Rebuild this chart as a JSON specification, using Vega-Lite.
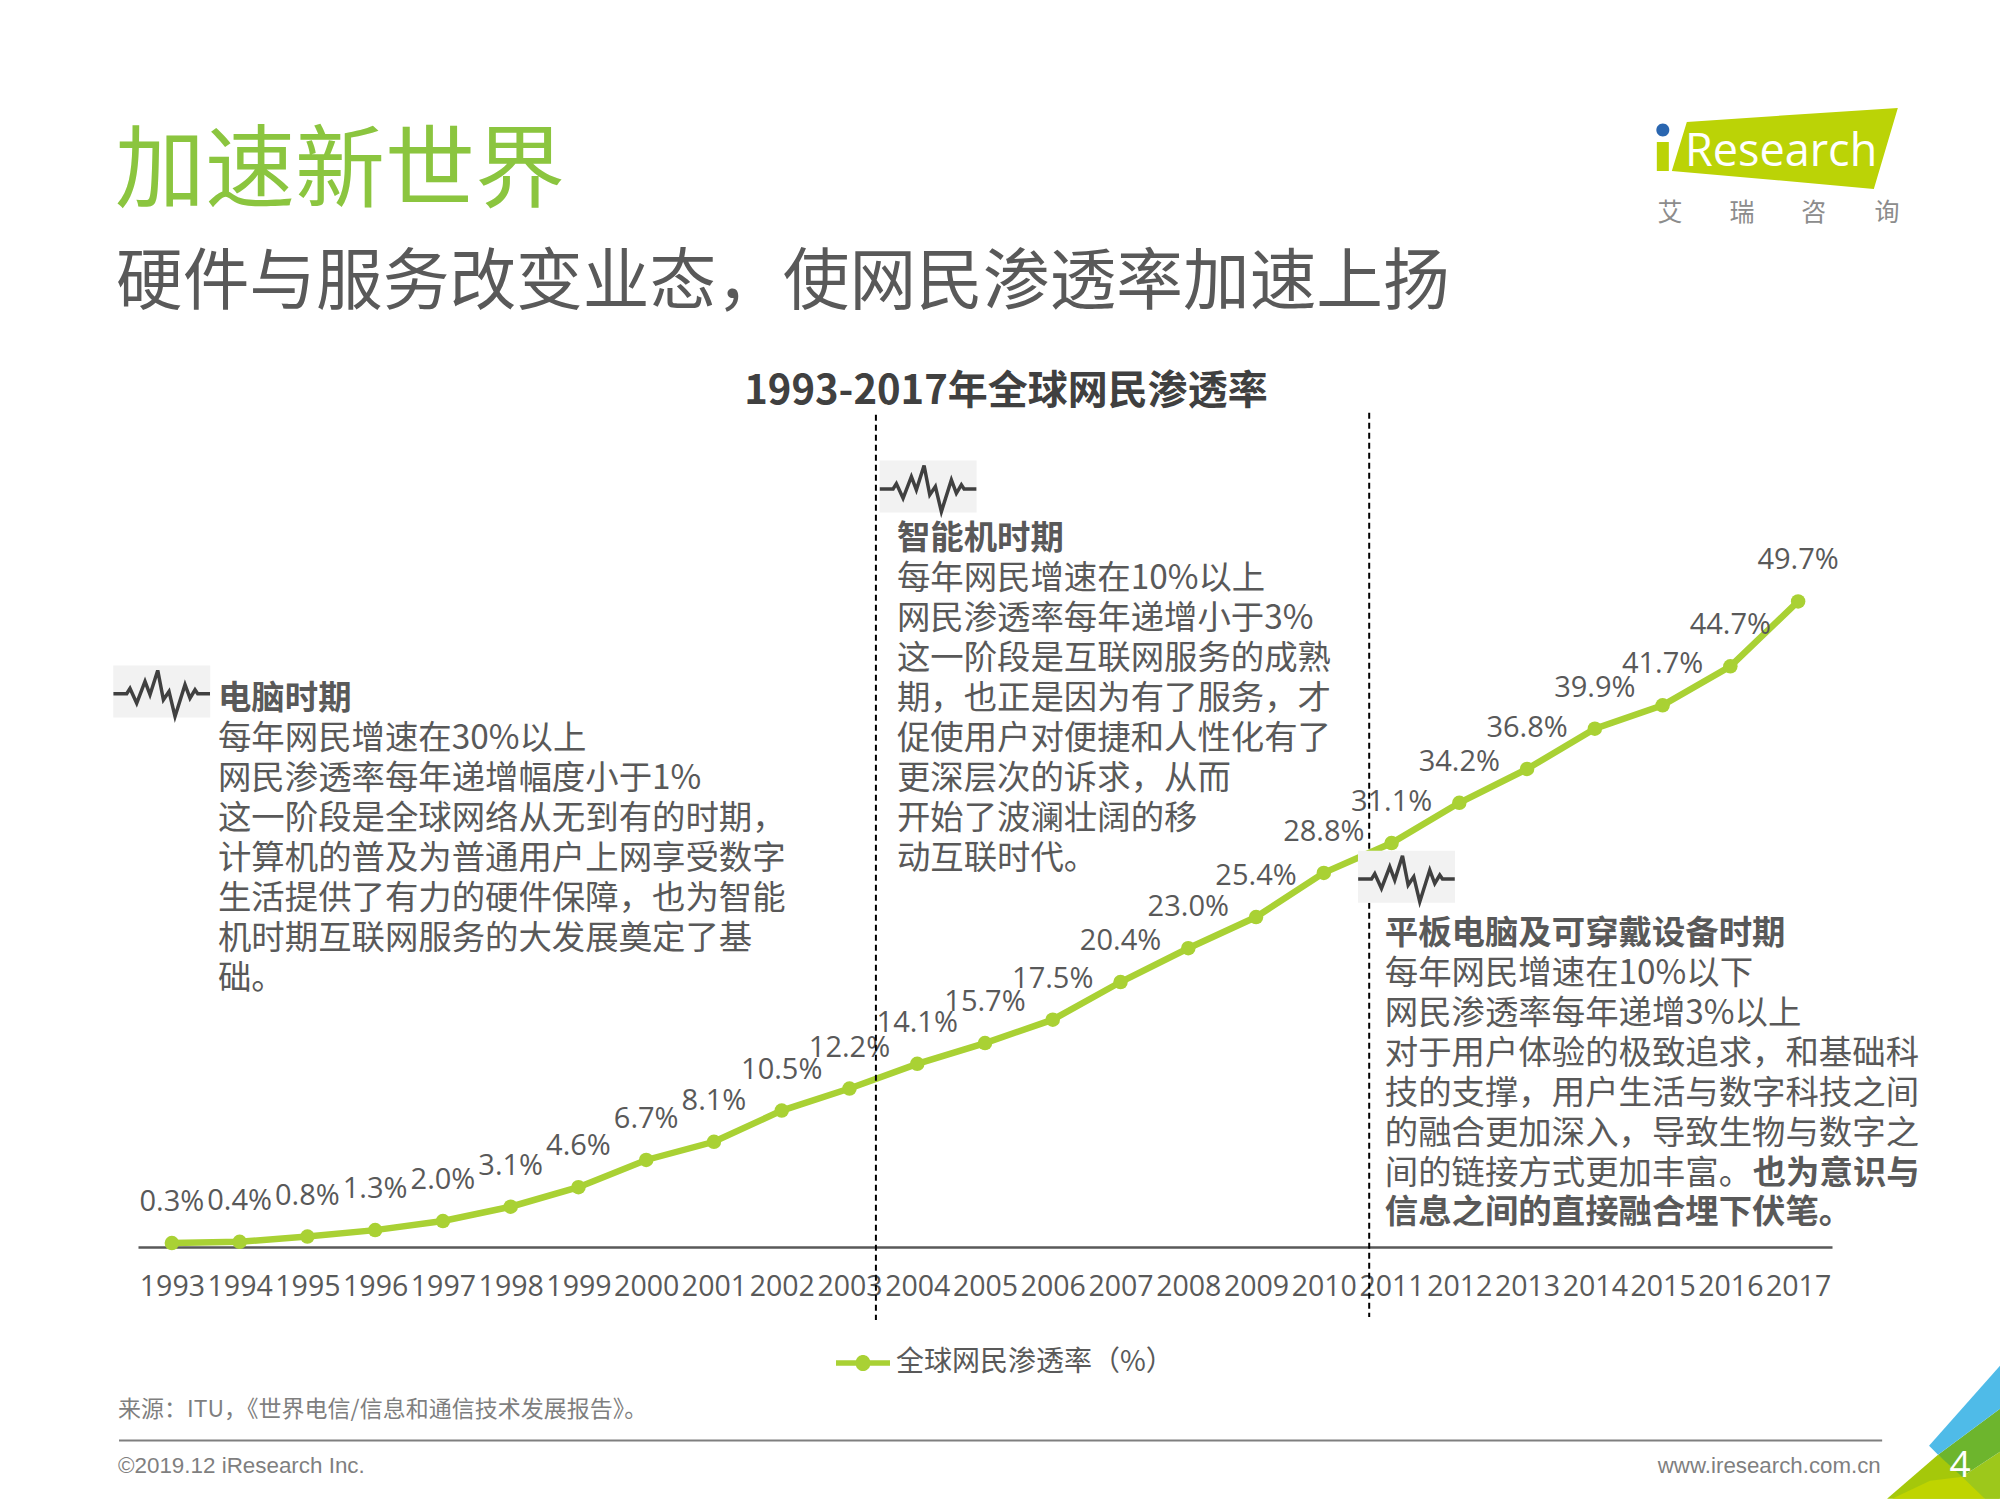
{
"$schema":"https://vega.github.io/schema/vega-lite/v6.json",
"width":1694,"height":1247,"autosize":{"type":"none"},
"padding":{"left":138,"top":0,"right":168,"bottom":253},
"background":"white",
"config":{"view":{"stroke":null},"font":"Noto Sans CJK SC"},
"datasets":{
"series":[
{"year":1993,"rate":0.3,"label":"0.3%","series":"全球网民渗透率（%）"},{"year":1994,"rate":0.4,"label":"0.4%","series":"全球网民渗透率（%）"},{"year":1995,"rate":0.8,"label":"0.8%","series":"全球网民渗透率（%）"},{"year":1996,"rate":1.3,"label":"1.3%","series":"全球网民渗透率（%）"},{"year":1997,"rate":2.0,"label":"2.0%","series":"全球网民渗透率（%）"},{"year":1998,"rate":3.1,"label":"3.1%","series":"全球网民渗透率（%）"},{"year":1999,"rate":4.6,"label":"4.6%","series":"全球网民渗透率（%）"},{"year":2000,"rate":6.7,"label":"6.7%","series":"全球网民渗透率（%）"},{"year":2001,"rate":8.1,"label":"8.1%","series":"全球网民渗透率（%）"},{"year":2002,"rate":10.5,"label":"10.5%","series":"全球网民渗透率（%）"},{"year":2003,"rate":12.2,"label":"12.2%","series":"全球网民渗透率（%）"},{"year":2004,"rate":14.1,"label":"14.1%","series":"全球网民渗透率（%）"},{"year":2005,"rate":15.7,"label":"15.7%","series":"全球网民渗透率（%）"},{"year":2006,"rate":17.5,"label":"17.5%","series":"全球网民渗透率（%）"},{"year":2007,"rate":20.4,"label":"20.4%","series":"全球网民渗透率（%）"},{"year":2008,"rate":23.0,"label":"23.0%","series":"全球网民渗透率（%）"},{"year":2009,"rate":25.4,"label":"25.4%","series":"全球网民渗透率（%）"},{"year":2010,"rate":28.8,"label":"28.8%","series":"全球网民渗透率（%）"},{"year":2011,"rate":31.1,"label":"31.1%","series":"全球网民渗透率（%）"},{"year":2012,"rate":34.2,"label":"34.2%","series":"全球网民渗透率（%）"},{"year":2013,"rate":36.8,"label":"36.8%","series":"全球网民渗透率（%）"},{"year":2014,"rate":39.9,"label":"39.9%","series":"全球网民渗透率（%）"},{"year":2015,"rate":41.7,"label":"41.7%","series":"全球网民渗透率（%）"},{"year":2016,"rate":44.7,"label":"44.7%","series":"全球网民渗透率（%）"},{"year":2017,"rate":49.7,"label":"49.7%","series":"全球网民渗透率（%）"}],
"cuts":[{"year":2003.39,"rate":64.08,"rate2":-5.62},{"year":2010.67,"rate":64.23,"rate2":-5.38}],
"icons":[{"year":1992.85,"rate":42.77},{"year":2004.16,"rate":58.54},{"year":2011.22,"rate":28.5}],
"footLine":[{"year":1992.22,"year2":2018.24,"rate":-14.9}],
"logo":[{"year":2016.73,"rate":84.46}],
"corner":[{"year":2019.98,"rate":-19.38}],
"headline":[{"year":1992.16,"rate":80.62,"text":"加速新世界"}],
"subhead":[{"year":1992.175,"rate":72.6,"text":"硬件与服务改变业态，使网民渗透率加速上扬"}],
"chartTitle":[{"year":2005.31,"rate":64.92,"text":"1993-2017年全球网民渗透率"}],
"bodyBold":[
{"year":1993.68,"rate":41.42,"text":"电脑时期"},
{"year":2003.70,"rate":53.73,"text":"智能机时期"},
{"year":2010.90,"rate":23.35,"text":"平板电脑及可穿戴设备时期"},
{"year":2016.33,"rate":4.88,"text":"也为意识与"},
{"year":2010.90,"rate":1.81,"text":"信息之间的直接融合埋下伏笔。"}],
"body":[
{"year":1993.68,"rate":38.35,"text":"每年网民增速在30%以上\n网民渗透率每年递增幅度小于1%\n这一阶段是全球网络从无到有的时期，\n计算机的普及为普通用户上网享受数字\n生活提供了有力的硬件保障，也为智能\n机时期互联网服务的大发展奠定了基\n础。"},
{"year":2003.70,"rate":50.65,"text":"每年网民增速在10%以上\n网民渗透率每年递增小于3%\n这一阶段是互联网服务的成熟\n期，也正是因为有了服务，才\n促使用户对便捷和人性化有了\n更深层次的诉求，从而\n开始了波澜壮阔的移\n动互联时代。"},
{"year":2010.90,"rate":20.27,"text":"每年网民增速在10%以下\n网民渗透率每年递增3%以上\n对于用户体验的极致追求，和基础科\n技的支撑，用户生活与数字科技之间\n的融合更加深入，导致生物与数字之\n间的链接方式更加丰富。"}],
"source":[{"year":1992.205,"rate":-13.08,"text":"来源：ITU，《世界电信/信息和通信技术发展报告》。"}],
"copyright":[{"year":1992.205,"rate":-17.38,"text":"©2019.12 iResearch Inc."}],
"website":[{"year":2018.22,"rate":-17.38,"text":"www.iresearch.com.cn"}],
"page":[{"year":2019.39,"rate":-17.69,"text":"4"}],
"brand":[{"year":2015.33,"rate":83.23,"text":"Research"}],
"brandCn":[{"year":2015.11,"rate":78.96,"text":"艾"},{"year":2016.17,"rate":78.96,"text":"瑞"},{"year":2017.23,"rate":78.96,"text":"咨"},{"year":2018.31,"rate":78.96,"text":"询"}]
},
"encoding":{
"x":{"field":"year","type":"quantitative","scale":{"domain":[1992.5,2017.5],"nice":false,"zero":false},
"axis":{"values":[1993,1994,1995,1996,1997,1998,1999,2000,2001,2002,2003,2004,2005,2006,2007,2008,2009,2010,2011,2012,2013,2014,2015,2016,2017],"format":"d","title":null,"grid":false,"ticks":false,"labelPadding":25,"labelFont":"Open Sans","labelFontSize":28.5,"labelColor":"#595959","labelOverlap":false,"labelFlush":false,"labelBound":false,"domainColor":"#595959","domainWidth":2.5}},
"y":{"field":"rate","type":"quantitative","scale":{"domain":[0,96],"nice":false,"zero":false},"axis":null}
},
"layer":[
{"data":{"name":"corner"},"mark":{"type":"point","filled":true,"opacity":1,"size":4,"fill":"#A5C80A","shape":"M-113,0L-62,-44L0,0Z"}},
{"data":{"name":"corner"},"mark":{"type":"point","filled":true,"opacity":1,"size":4,"fill":"#BFD400","shape":"M-108,0L-70,-18L-37,-22L-15,0Z"}},
{"data":{"name":"corner"},"mark":{"type":"point","filled":true,"opacity":1,"size":4,"fill":"#9DC81B","shape":"M-38,-22L0,-47L0,0L-15,0Z"}},
{"data":{"name":"corner"},"mark":{"type":"point","filled":true,"opacity":1,"size":4,"fill":"#6DB52D","shape":"M-62,-44L0,-90L0,-47L-38,-22Z"}},
{"data":{"name":"corner"},"mark":{"type":"point","filled":true,"opacity":1,"size":4,"fill":"#4FBBE8","shape":"M-71,-53L0,-133L0,-90L-62,-44Z"}},
{"data":{"name":"page"},"mark":{"type":"text","align":"center","baseline":"alphabetic","font":"Open Sans","fontSize":37,"fill":"white"},"encoding":{"text":{"field":"text"}}},
{"data":{"name":"series"},"mark":{"type":"line","strokeWidth":6.5,"interpolate":"linear","opacity":1},
"encoding":{"color":{"field":"series","type":"nominal","scale":{"range":["#A9D134"]},"legend":{"orient":"none","legendX":698,"legendY":1336,"title":null,"symbolType":"M-1,-0.1H-0.26A0.27,0.27 0 0 1 0.26,-0.1H1V0.1H0.26A0.27,0.27 0 0 1 -0.26,0.1H-1Z","symbolSize":2916,"symbolFillColor":"#A9D134","symbolStrokeColor":"#A9D134","symbolStrokeWidth":0,"symbolOpacity":1,"labelFont":"Noto Sans CJK SC","labelFontSize":28,"labelColor":"#595959","labelOffset":6,"labelLimit":400}}}},
{"data":{"name":"series"},"mark":{"type":"point","filled":true,"size":210,"opacity":1,"color":"#A9D134"}},
{"data":{"name":"series"},"mark":{"type":"text","align":"center","baseline":"middle","dy":-41,"font":"Open Sans","fontSize":29,"fill":"#595959"},"encoding":{"text":{"field":"label"}}},
{"data":{"name":"cuts"},"mark":{"type":"rule","stroke":"#000000","strokeWidth":2,"strokeDash":[6,4]},"encoding":{"y2":{"field":"rate2"}}},
{"data":{"name":"icons"},"mark":{"type":"point","filled":true,"opacity":1,"size":4,"fill":"#F2F2F2","shape":"M-48.5,-26H48.5V26H-48.5Z"}},
{"data":{"name":"icons"},"mark":{"type":"point","filled":false,"opacity":1,"size":4,"stroke":"#404040","strokeWidth":3.5,"fill":"transparent","shape":"M-48.3,2.3L-35,2.3L-31.7,-3L-25,11.7L-16.7,-10L-11.7,3.3L-4,-21L1.7,8.3L7.3,0L13.3,25L23.3,-6.7L28.3,6.7L33.3,-1.7L36,2.3L48.3,2.3"}},
{"data":{"name":"footLine"},"mark":{"type":"rule","stroke":"#7F7F7F","strokeWidth":2},"encoding":{"x2":{"field":"year2"}}},
{"data":{"name":"logo"},"mark":{"type":"point","filled":true,"opacity":1,"size":4,"fill":"#BBD306","shape":"M-93,-28L118,-42L94,39L-108,21ZM-123,-8H-111V21H-123Z"}},
{"data":{"name":"logo"},"mark":{"type":"point","filled":true,"opacity":1,"size":4,"fill":"#2A66B0","shape":"M-123.5,-20A6.5,6.5 0 1 1 -110.5,-20A6.5,6.5 0 1 1 -123.5,-20Z"}},
{"data":{"name":"brand"},"mark":{"type":"text","align":"left","baseline":"alphabetic","font":"Open Sans","fontSize":45,"fill":"#FFFFFF"},"encoding":{"text":{"field":"text"}}},
{"data":{"name":"brandCn"},"mark":{"type":"text","align":"center","baseline":"alphabetic","font":"Noto Sans CJK SC","fontSize":25,"fill":"#8C8C8C"},"encoding":{"text":{"field":"text"}}},
{"data":{"name":"headline"},"mark":{"type":"text","align":"left","baseline":"alphabetic","font":"Noto Sans CJK SC","fontSize":90,"fill":"#8BC53F"},"encoding":{"text":{"field":"text"}}},
{"data":{"name":"subhead"},"mark":{"type":"text","align":"left","baseline":"alphabetic","font":"Noto Sans CJK SC","fontSize":66.7,"fill":"#595959"},"encoding":{"text":{"field":"text"}}},
{"data":{"name":"chartTitle"},"mark":{"type":"text","align":"center","baseline":"alphabetic","font":"Noto Sans CJK SC","fontWeight":"bold","fontSize":40,"fill":"#404040"},"encoding":{"text":{"field":"text"}}},
{"data":{"name":"bodyBold"},"mark":{"type":"text","align":"left","baseline":"alphabetic","font":"Noto Sans CJK SC","fontWeight":"bold","fontSize":33.4,"fill":"#595959"},"encoding":{"text":{"field":"text"}}},
{"data":{"name":"body"},"mark":{"type":"text","align":"left","baseline":"alphabetic","font":"Noto Sans CJK SC","fontSize":33.4,"fill":"#595959","lineBreak":"\n","lineHeight":40},"encoding":{"text":{"field":"text"}}},
{"data":{"name":"source"},"mark":{"type":"text","align":"left","baseline":"alphabetic","font":"Noto Sans CJK SC","fontSize":23,"fill":"#7F7F7F"},"encoding":{"text":{"field":"text"}}},
{"data":{"name":"copyright"},"mark":{"type":"text","align":"left","baseline":"alphabetic","font":"Liberation Sans","fontSize":22.4,"fill":"#7F7F7F"},"encoding":{"text":{"field":"text"}}},
{"data":{"name":"website"},"mark":{"type":"text","align":"right","baseline":"alphabetic","font":"Liberation Sans","fontSize":22.3,"fill":"#7F7F7F"},"encoding":{"text":{"field":"text"}}}
]
}
